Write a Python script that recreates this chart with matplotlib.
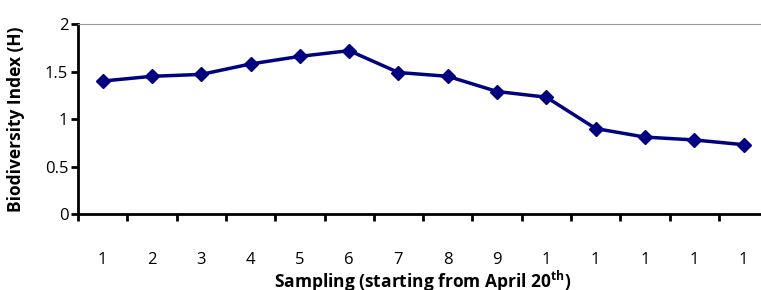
import matplotlib.pyplot as plt
import numpy as np

# sampling number and Shannon diversity values
samples = list(range(1, 15))
tick_labels = ["1", "2", "3", "4", "5", "6", "7", "8", "9", "1", "1", "1", "1", "1"]
biodiversity = [1.40, 1.45, 1.47, 1.58, 1.66, 1.72, 1.49, 1.45, 1.29, 1.23, 0.90, 0.81, 0.78, 0.73]

plt.rcParams["font.family"] = ["Open Sans", "DejaVu Sans"]

fig = plt.figure(figsize=(7.61, 2.90), dpi=100)
ax = fig.add_axes([0.1025, 0.262, 0.907, 0.655])

ax.plot(samples, biodiversity, color="#000080", lw=2.5, marker="D", ms=7)

ax.set_xlim(0.5, 14.5)
ax.set_ylim(0, 2)
ax.set_yticks([0, 0.5, 1, 1.5, 2])
ax.set_yticklabels(["0", "0.5", "1", "1.5", "2"], fontsize=12)

# ticks sit between categories, labels at the centers
ax.set_xticks(np.arange(0.5, 15, 1))
ax.set_xticklabels([])
ax.set_xticks(samples, minor=True)
ax.set_xticklabels(tick_labels, minor=True, fontsize=12)
ax.tick_params(axis="x", which="major", direction="out", length=5, width=2)
ax.tick_params(axis="x", which="minor", length=0, pad=27)
ax.tick_params(axis="y", direction="out", length=5, width=2, pad=2)

ax.spines["left"].set_linewidth(2)
ax.spines["bottom"].set_linewidth(2)
ax.spines["top"].set_color("#999999")
ax.spines["right"].set_visible(False)

ax.set_xlabel("Sampling (starting from April 20$^{\\mathregular{th}}$)", fontsize=12.5,
              fontweight="bold", labelpad=1)
ax.set_ylabel("Biodiversity Index (H)", fontsize=12.5, fontweight="bold", labelpad=14)

plt.savefig("out.png", dpi=100)
